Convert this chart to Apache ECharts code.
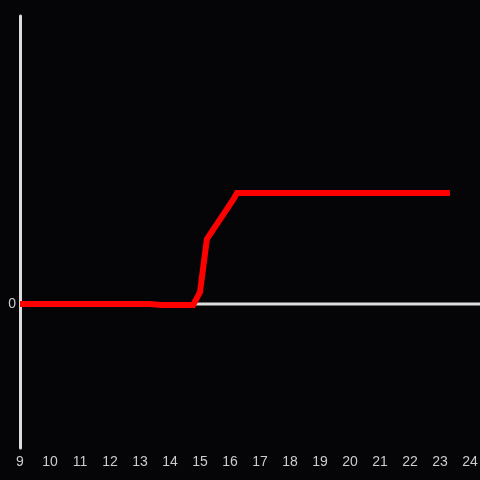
<!DOCTYPE html>
<html>
<head>
<meta charset="utf-8">
<script src="https://cdn.jsdelivr.net/npm/echarts@6/dist/echarts.min.js"></script>
<style>
	html, body { margin: 0; padding: 0; background: #050407; }
	#chart { width: 480px; height: 480px; }
</style>
</head>
<body>
<div id="chart"></div>
<script>
// hours of day and the values
var hours = [9, 13.33, 13.7, 14.77, 15.0, 15.23, 16.1, 16.23, 23.33];
var values = [0, 0, -0.3, -0.3, 3.3, 18, 28.9, 30.8, 30.8];
var xMin = 9, xMax = 24.333;
var yMin = -40, yMax = 80;

var lineData = hours.map(function (h, i) {
	return [h, values[i]];
});

var myChart = echarts.init(document.getElementById('chart'), null, { renderer: 'canvas' });

var option = {
	backgroundColor: '#050407',
	animation: false,
	grid: {
		left: 20,
		right: 0,
		top: 16,
		bottom: 32,
		containLabel: false,
		outerBoundsMode: 'none'
	},
	xAxis: {
		type: 'value',
		min: xMin,
		max: xMax,
		interval: 1,
		axisLine: { show: false },
		axisTick: { show: false },
		splitLine: { show: false },
		axisLabel: {
			color: '#cccccc',
			fontSize: 14,
			margin: 7,
			fontFamily: 'Liberation Sans, sans-serif',
			showMaxLabel: true,
			formatter: function (v) {
				return v % 1 === 0 ? String(v) : '';
			}
		}
	},
	yAxis: {
		type: 'value',
		min: yMin,
		max: yMax,
		interval: 40,
		axisLine: {
			show: true,
			onZero: false,
			lineStyle: { color: '#dddddd', width: 3 }
		},
		axisTick: { show: false },
		splitLine: { show: false },
		axisLabel: {
			color: '#cccccc',
			fontSize: 14,
			margin: 4,
			fontFamily: 'Liberation Sans, sans-serif',
			formatter: function (v) {
				return v === 0 ? '0' : '';
			}
		}
	},
	series: [
		{
			name: 'zero',
			type: 'line',
			data: [[xMin, 0], [xMax, 0]],
			symbol: 'none',
			z: 1,
			lineStyle: { color: '#dddddd', width: 3 }
		},
		{
			name: 'value',
			type: 'line',
			data: lineData,
			symbol: 'none',
			z: 3,
			lineStyle: { color: '#ff0000', width: 6, cap: 'butt', join: 'miter' }
		}
	]
};

myChart.setOption(option);
</script>
</body>
</html>
